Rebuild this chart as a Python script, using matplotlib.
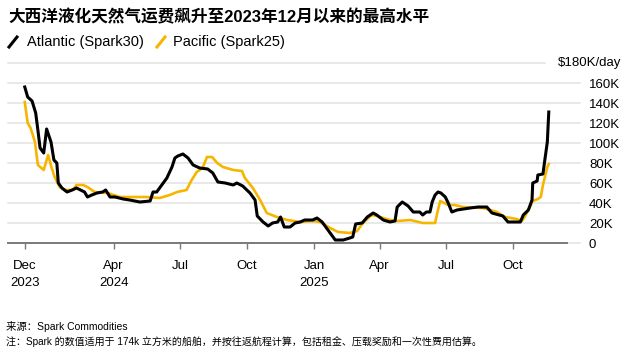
import matplotlib
matplotlib.use("Agg")
import matplotlib.pyplot as plt
from matplotlib.lines import Line2D
import pandas as pd

plt.rcParams['font.family'] = ['Liberation Sans', 'Noto Sans CJK SC']

# Atlantic (Spark30), $K/day
atl_dates = [
    "2023-12-01", "2023-12-05", "2023-12-11", "2023-12-16", "2023-12-19", "2023-12-22",
    "2023-12-27", "2023-12-31", "2024-01-06", "2024-01-10", "2024-01-14", "2024-01-16",
    "2024-01-21", "2024-01-28", "2024-02-04", "2024-02-10", "2024-02-21", "2024-02-25",
    "2024-03-02", "2024-03-09", "2024-03-17", "2024-03-21", "2024-03-27", "2024-04-03",
    "2024-04-14", "2024-04-23", "2024-05-07", "2024-05-21", "2024-05-25", "2024-05-30",
    "2024-06-03", "2024-06-13", "2024-06-20", "2024-06-24", "2024-06-28", "2024-07-05",
    "2024-07-12", "2024-07-19", "2024-07-28", "2024-08-08", "2024-08-15", "2024-08-22",
    "2024-09-01", "2024-09-12", "2024-09-17", "2024-09-25", "2024-10-05", "2024-10-12",
    "2024-10-15", "2024-10-23", "2024-10-30", "2024-11-05", "2024-11-12", "2024-11-16",
    "2024-11-21", "2024-11-29", "2024-12-06", "2024-12-13", "2024-12-19", "2024-12-30",
    "2025-01-05", "2025-01-12", "2025-01-20", "2025-01-30", "2025-02-10", "2025-02-19",
    "2025-02-23", "2025-02-27", "2025-03-08", "2025-03-15", "2025-03-23", "2025-03-28",
    "2025-04-06", "2025-04-15", "2025-04-22", "2025-04-25", "2025-05-02", "2025-05-10",
    "2025-05-17", "2025-05-26", "2025-05-30", "2025-06-04", "2025-06-09", "2025-06-12",
    "2025-06-16", "2025-06-20", "2025-06-24", "2025-06-30", "2025-07-04", "2025-07-09",
    "2025-07-16", "2025-08-03", "2025-08-14", "2025-08-26", "2025-09-02", "2025-09-17",
    "2025-09-24", "2025-10-04", "2025-10-11", "2025-10-15", "2025-10-22", "2025-10-27",
    "2025-10-28", "2025-11-03", "2025-11-04", "2025-11-11", "2025-11-13", "2025-11-17",
    "2025-11-19",
]
atl_values = [
    156, 146, 142, 130, 113, 95,
    90, 114, 101, 83, 80, 60,
    55, 51, 53, 55, 51, 46,
    48, 50, 51, 53, 46, 46,
    44, 43, 41, 42, 51, 51,
    55, 65, 76, 85, 87, 89,
    85, 78, 75, 74, 70, 61,
    60, 58, 60, 57, 50, 43,
    27, 21, 17, 20, 21, 26,
    16, 16, 20, 21, 23, 23,
    25, 21, 13, 3, 3, 5,
    6, 19, 20, 26, 30, 28,
    23, 21, 22, 36, 41, 37,
    31, 31, 28, 31, 31, 41,
    48, 51, 50, 46, 40, 31,
    33, 35, 36, 36, 30, 27,
    21, 21, 21, 28, 33, 43,
    60, 62, 68, 69, 80, 101,
    131,
]

# Pacific (Spark25), $K/day
pac_dates = [
    "2023-12-01", "2023-12-05", "2023-12-09", "2023-12-15", "2023-12-19", "2023-12-27",
    "2024-01-02", "2024-01-07", "2024-01-11", "2024-01-18", "2024-01-25", "2024-02-05",
    "2024-02-10", "2024-02-19", "2024-02-25", "2024-03-06", "2024-03-24", "2024-04-09",
    "2024-04-27", "2024-05-16", "2024-06-03", "2024-06-17", "2024-06-27", "2024-07-10",
    "2024-07-17", "2024-07-24", "2024-08-01", "2024-08-07", "2024-08-14", "2024-08-21",
    "2024-08-29", "2024-09-12", "2024-09-24", "2024-09-28", "2024-10-09", "2024-10-19",
    "2024-10-28", "2024-11-11", "2024-11-25", "2024-12-13", "2024-12-30", "2025-01-09",
    "2025-01-23", "2025-02-03", "2025-02-19", "2025-03-01", "2025-03-09", "2025-03-21",
    "2025-03-28", "2025-04-15", "2025-04-26", "2025-05-13", "2025-05-30", "2025-06-16",
    "2025-06-19", "2025-06-23", "2025-07-04", "2025-07-13", "2025-07-24", "2025-08-21",
    "2025-09-09", "2025-09-20", "2025-10-06", "2025-10-13", "2025-10-17", "2025-10-24",
    "2025-10-28", "2025-11-04", "2025-11-08", "2025-11-11", "2025-11-17", "2025-11-19",
]
pac_values = [
    141, 120, 115, 101, 78, 73,
    88, 75, 66, 56, 53, 53,
    58, 58, 56, 51, 50, 46,
    46, 46, 45, 48, 51, 53,
    63, 71, 75, 86, 86, 80,
    76, 73, 72, 65, 55, 43,
    30, 26, 23, 21, 22, 21,
    15, 11, 10, 12, 20, 28,
    27, 23, 22, 23, 20, 20,
    30, 42, 38, 38, 36, 35,
    31, 26, 24, 22, 26, 36,
    42, 44, 46, 58, 76, 79,
]

tick_dates = ["2023-12-01", "2024-04-01", "2024-07-01", "2024-10-01",
              "2025-01-01", "2025-04-01", "2025-07-01", "2025-10-01"]
tick_labels = ["Dec\n2023", "Apr\n2024", "Jul", "Oct", "Jan\n2025", "Apr", "Jul", "Oct"]
y_ticks = [0, 20, 40, 60, 80, 100, 120, 140, 160]
y_labels = ["0", "20K", "40K", "60K", "80K", "100K", "120K", "140K", "160K"]

title = "大西洋液化天然气运费飙升至2023年12月以来的最高水平"
source = "来源：Spark Commodities"
note = "注：Spark 的数值适用于 174k 立方米的船舶，并按往返航程计算，包括租金、压载奖励和一次性费用估算。"

BLACK = "#000000"
GOLD = "#f7b500"
GRID = "#e1e1e1"

W, H = 630, 353
fig = plt.figure(figsize=(W / 100, H / 100), dpi=100)
ax = fig.add_axes([8 / W, 1 - 243 / H, (567 - 8) / W, (243 - 63) / H])

ax.set_xlim(pd.Timestamp("2023-11-08"), pd.Timestamp("2025-12-14"))
ax.set_ylim(0, 180)

# gridlines run a little past the axis on the right
for y in y_ticks:
    ax.axhline(y, xmin=0, xmax=1.023, color=GRID, lw=1.1, clip_on=False, zorder=0)
ax.axhline(180, xmin=0, xmax=0.96, color=GRID, lw=1.1, clip_on=False, zorder=0)

ax.plot(pd.to_datetime(pac_dates), pac_values, color=GOLD, lw=1.9, zorder=3,
        solid_joinstyle="round", clip_on=False)
ax.plot(pd.to_datetime(atl_dates), atl_values, color=BLACK, lw=2.2, zorder=4,
        solid_joinstyle="round", clip_on=False)

for s in ["top", "left", "right"]:
    ax.spines[s].set_visible(False)
ax.spines["bottom"].set_color("#7a7a7a")
ax.spines["bottom"].set_linewidth(1.4)
ax.spines["bottom"].set_zorder(5)

ax.set_xticks(pd.to_datetime(tick_dates))
ax.set_xticklabels(tick_labels, fontsize=9.5, linespacing=1.6)
ax.tick_params(axis="x", direction="out", length=4, width=1, color="#7a7a7a", pad=8)

ax.yaxis.tick_right()
ax.set_yticks(y_ticks)
ax.set_yticklabels(y_labels, fontsize=9.5)
ax.tick_params(axis="y", length=0, pad=15.8)
for lab in ax.get_yticklabels():
    lab.set_horizontalalignment("left")

fig.text(621 / W, 1 - 63 / H, "$180K/day", fontsize=9.5, ha="right", va="center")

# title + legend
fig.text(8 / W, 1 - 17 / H, title, fontsize=12, fontweight="bold", ha="left", va="center")
fig.add_artist(Line2D([9 / W, 17 / W], [1 - 47 / H, 1 - 37 / H], color=BLACK, lw=2.2))
fig.text(27 / W, 1 - 42 / H, "Atlantic (Spark30)", fontsize=10.5, ha="left", va="center")
fig.add_artist(Line2D([157 / W, 165 / W], [1 - 47 / H, 1 - 37 / H], color=GOLD, lw=2.2))
fig.text(173 / W, 1 - 42 / H, "Pacific (Spark25)", fontsize=10.5, ha="left", va="center")

# footer
fig.text(6 / W, 1 - 327 / H, source, fontsize=7.5, ha="left", va="center")
fig.text(6 / W, 1 - 342 / H, note, fontsize=7.2, ha="left", va="center")

fig.savefig("out.png", dpi=100)
plt.close(fig)
